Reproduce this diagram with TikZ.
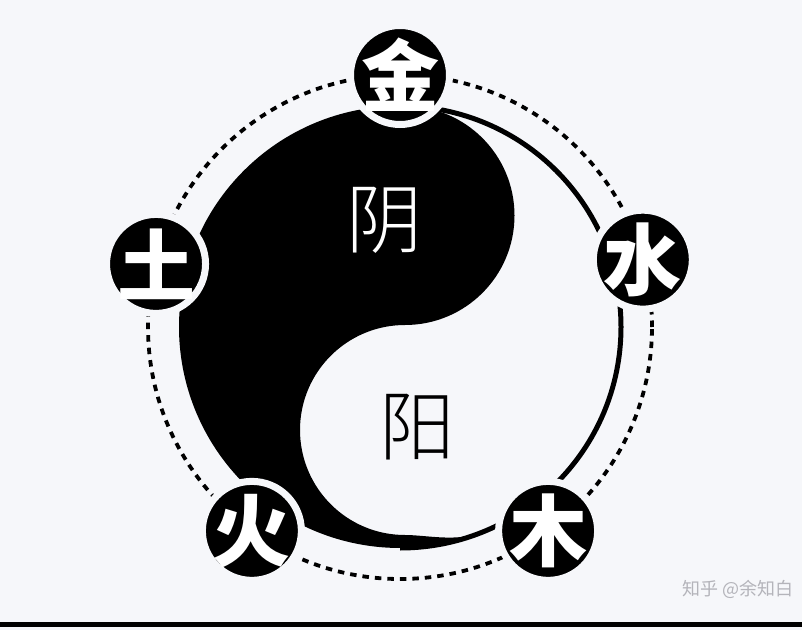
\documentclass[tikz,border=0pt]{standalone}
\usepackage{fontspec}
\usepackage{tikz}
\usetikzlibrary{calc}
\newfontfamily\cjk{Noto Sans CJK SC}
\newfontfamily\cjklight{Noto Sans CJK SC Light}
\definecolor{paper}{RGB}{246,247,250}
\definecolor{markgray}{RGB}{180,180,186}

\begin{document}
\begin{tikzpicture}[x=1pt, y=1pt,
    elemchar/.style={text=white, inner sep=0pt, font=\cjk\bfseries\fontsize{78}{78}\selectfont},
    element/.style={circle, fill=black, draw=paper, line width=7pt, minimum size=99pt,
      inner sep=0pt, label={[elemchar]center:#1}},
    ringdash/.style={line width=3.8pt, dash pattern=on 6.5pt off 6pt}]
    % Paper and base line
    \fill[paper] (0,0) rectangle (802,630);
    \useasboundingbox (0,0) rectangle (802,630);
    \fill[black] (0,3.5) rectangle (802,8.5);

    \coordinate (O) at (400,303);

    % Dashed outer ring
    \draw[ringdash] (O) circle[radius=252];

    % Yin half, tail running past the bottom
    \fill[black] ($(O)+(0,221)$) arc[start angle=90, end angle=290, radius=221]
      .. controls (450,89) and (425,95) .. (405,95)
      arc[start angle=-90, end angle=-270, radius=105]
      arc[start angle=-90, end angle=90, radius=109.5] -- cycle;

    % Yang outline
    \draw[line width=5pt] ($(O)+(0,221)$) arc[start angle=90, end angle=-90, radius=221];

    % Five elements
    \node[element=金] (jin) at ($(O)+(90:252)$) {};
    \node[element=水] (shui) at ($(O)+(15.5:252)$) {};
    \node[element=木] (mu) at ($(O)+(-54:252)$) {};
    \node[element=火] (huo) at ($(O)+(-126:252)$) {};
    \node[element=土] (tu) at ($(O)+(165.5:252)$) {};

    % Yin / yang labels
    \node[text=white, font=\cjklight\fontsize{76}{76}\selectfont] (yin) at (384,410) {阴};
    \node[font=\cjklight\fontsize{76}{76}\selectfont] (yang) at (417,203) {阳};

    % Watermark
    \node[text=markgray, font=\cjk\fontsize{18}{18}\selectfont] (mark) at (738,41) {知乎 @余知白};
\end{tikzpicture}
\end{document}
